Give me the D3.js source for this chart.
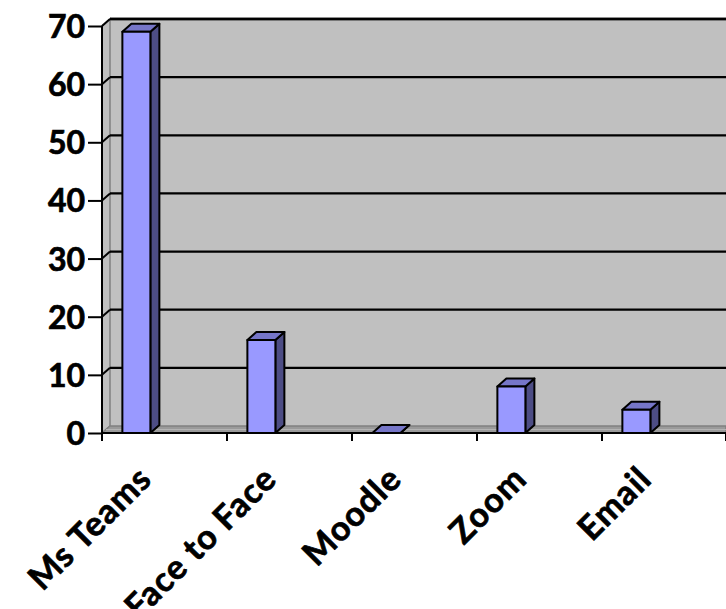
<!DOCTYPE html>
<html><head><meta charset="utf-8">
<script src="https://cdn.jsdelivr.net/npm/d3@7"></script>
<style>html,body{margin:0;padding:0;background:#fff;overflow:hidden}</style>
</head><body><svg id="c" width="726" height="609"></svg>
<script>
const categories = ["Ms Teams", "Face to Face", "Moodle", "Zoom", "Email"];
const values = [69, 16, 0, 8, 4];
const yTicks = [0, 10, 20, 30, 40, 50, 60, 70];

const svg = d3.select("#c");
const x0 = 102, x1 = 727, yTop = 26, yBot = 433;
const wdx = 8, wdy = -7;   // wall depth
const bdx = 9, bdy = -8;   // bar depth
const x = d3.scaleBand().domain(categories).range([x0, x1]);
const y = d3.scaleLinear().domain([0, 70]).range([yBot, yTop]);
const font = "Lato, 'Open Sans', sans-serif";

// back wall
svg.append("rect").attr("x", x0 + wdx).attr("y", yTop + wdy).attr("width", 726 - x0 - wdx).attr("height", yBot - yTop)
  .attr("fill", "#c0c0c0");
svg.append("line").attr("x1", x0 + wdx).attr("x2", 726).attr("y1", yTop + wdy).attr("y2", yTop + wdy)
  .attr("stroke", "#808080").attr("stroke-width", 3);
// side wall
svg.append("path").attr("d", `M${x0},${yTop}L${x0 + wdx},${yTop + wdy}L${x0 + wdx},${yBot + wdy}L${x0},${yBot}Z`)
  .attr("fill", "#c0c0c0").attr("stroke", "#808080").attr("stroke-width", 1.5);
// floor
svg.append("path").attr("d", `M${x0},${yBot}L${x0 + wdx},${yBot + wdy}L726,${yBot + wdy}L726,${yBot}Z`)
  .attr("fill", "#9a9a9a").attr("stroke", "#808080").attr("stroke-width", 1.5);
svg.append("line").attr("x1", x0 + 4).attr("x2", 726).attr("y1", yBot - 3.5).attr("y2", yBot - 3.5)
  .attr("stroke", "#b4b4b4").attr("stroke-width", 1);

// gridlines on back wall + diagonals on side wall
yTicks.filter(t => t > 0).forEach(t => {
  svg.append("line").attr("x1", x0 + wdx).attr("x2", 726).attr("y1", y(t) + wdy).attr("y2", y(t) + wdy)
    .attr("stroke", "#000").attr("stroke-width", 2.3);
  svg.append("line").attr("x1", x0).attr("x2", x0 + wdx).attr("y1", y(t)).attr("y2", y(t) + wdy)
    .attr("stroke", "#000").attr("stroke-width", 2);
});

// bars
const bw = x.bandwidth();
const g = svg.append("g").attr("stroke", "#000").attr("stroke-width", 2).attr("stroke-linejoin", "round");
categories.forEach((c, i) => {
  const bx = x(c) + bw * 0.163, w = bw * 0.224;
  const yt = y(values[i]), yb = y(0);
  g.append("path").attr("d", `M${bx + w},${yt}L${bx + w + bdx},${yt + bdy}L${bx + w + bdx},${yb + bdy}L${bx + w},${yb}Z`)
    .attr("fill", "#4d4d85");
  g.append("path").attr("d", `M${bx},${yt}L${bx + bdx},${yt + bdy}L${bx + w + bdx},${yt + bdy}L${bx + w},${yt}Z`)
    .attr("fill", "#7676c8");
  if (values[i] > 0)
    g.append("rect").attr("x", bx).attr("y", yt).attr("width", w).attr("height", yb - yt).attr("fill", "#9999ff");
});

// axes
const ya = svg.append("g").attr("transform", `translate(${x0},0)`)
  .call(d3.axisLeft(y).tickValues(yTicks).tickSize(14).tickPadding(3));
ya.select(".domain").attr("stroke", "#000").attr("stroke-width", 2).attr("d", `M0,${yTop}V${yBot}`);
ya.selectAll(".tick line").attr("stroke", "#000").attr("stroke-width", 2);
ya.selectAll(".tick text").attr("font-family", font).attr("font-weight", "bold").attr("font-size", 32)
  .attr("fill", "#000").attr("stroke", "#000").attr("stroke-width", 0.7).attr("dy", "0.36em");

const xa = svg.append("g").attr("transform", `translate(0,${yBot})`)
  .call(d3.axisBottom(x).tickSize(0).tickFormat(""));
xa.select(".domain").attr("stroke", "#000").attr("stroke-width", 2).attr("d", `M${x0},0H726`);
const xt = [...categories.map(c => x(c)), x1 - 1];
xt.forEach(v => svg.append("line").attr("x1", v).attr("x2", v).attr("y1", yBot).attr("y2", yBot + 8)
  .attr("stroke", "#000").attr("stroke-width", 2));

// x labels rotated
categories.forEach(c => {
  const cx = x(c) + bw / 2;
  svg.append("text").attr("transform", `translate(${cx - 11},${yBot + 48}) rotate(-45)`)
    .attr("text-anchor", "end").attr("font-family", font).attr("font-weight", "bold").attr("font-size", 34)
    .attr("letter-spacing", 1)
    .attr("fill", "#000").attr("stroke", "#000").attr("stroke-width", 0.7).text(c);
});
</script>
</body></html>
